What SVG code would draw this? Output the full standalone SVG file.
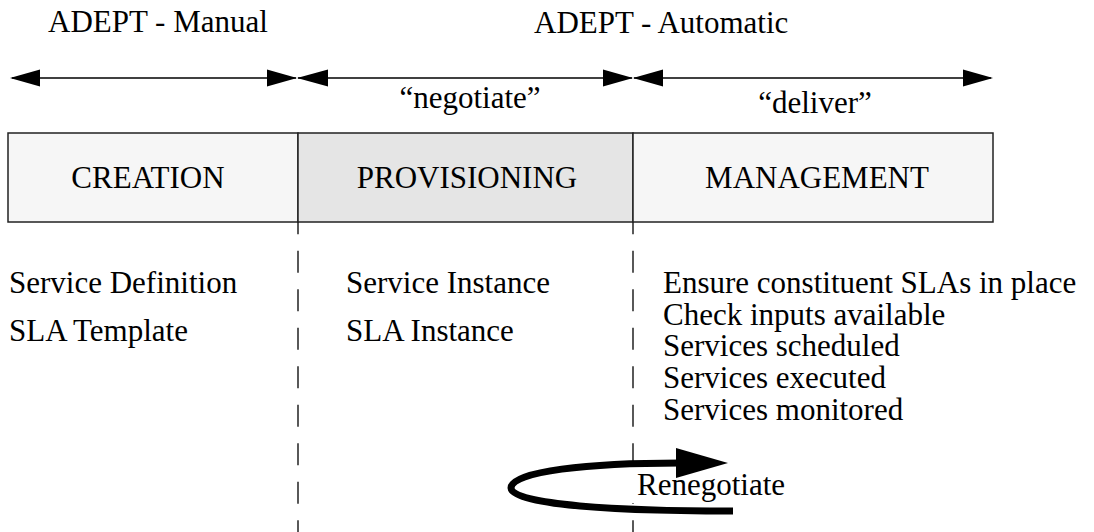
<svg xmlns="http://www.w3.org/2000/svg" width="1094" height="532" viewBox="0 0 1094 532" font-family="'Liberation Serif', 'DejaVu Serif', serif">
<style>
  text { font-family: 'Liberation Serif', 'DejaVu Serif', serif; font-size: 31px; fill: #000; }
  .mid { text-anchor: middle; }
  .ln { stroke: #000; stroke-width: 1.4; fill: none; }
  .head { fill: #000; stroke: none; }
  .dash { stroke: #000; stroke-width: 1.3; fill: none; stroke-dasharray: 22 16.5; stroke-dashoffset: 9.8; }
  .panel { stroke: #222; stroke-width: 1.5; }
</style>
<rect width="1094" height="532" fill="#fff"/>

<g id="headers">
  <text x="48" y="32">ADEPT - Manual</text>
  <text x="534" y="33">ADEPT - Automatic</text>
</g>

<g id="connectors">
  <line class="ln" x1="12" y1="78" x2="296" y2="78"/>
  <polygon class="head" points="10,78 40,69.5 40,86.5"/>
  <polygon class="head" points="297,78 267,69.5 267,86.5"/>
  <line class="ln" x1="298" y1="78" x2="632" y2="78"/>
  <polygon class="head" points="297,78 328,69.5 328,86.5"/>
  <polygon class="head" points="633,78 603,69.5 603,86.5"/>
  <line class="ln" x1="634" y1="78" x2="991" y2="78"/>
  <polygon class="head" points="633,78 663,69.5 663,86.5"/>
  <polygon class="head" points="993,78 963,69.5 963,86.5"/>
  <line class="dash" x1="298" y1="222" x2="298" y2="532"/>
  <line class="dash" x1="633" y1="222" x2="633" y2="532"/>
</g>

<g id="phase-labels">
  <text class="mid" x="470" y="108">“negotiate”</text>
  <text class="mid" x="815" y="113">“deliver”</text>
</g>

<g id="creation">
  <rect class="panel" x="8" y="133" width="290" height="89" fill="#f6f6f6"/>
  <text class="mid" x="148" y="188">CREATION</text>
</g>
<g id="provisioning">
  <rect class="panel" x="298" y="133" width="335" height="89" fill="#e5e5e5"/>
  <text class="mid" x="467" y="188">PROVISIONING</text>
</g>
<g id="management">
  <rect class="panel" x="633" y="133" width="360" height="89" fill="#f6f6f6"/>
  <text class="mid" x="817" y="188">MANAGEMENT</text>
</g>

<g id="creation-items">
  <text x="9" y="293">Service Definition</text>
  <text x="9" y="341">SLA Template</text>
</g>
<g id="provisioning-items">
  <text x="346" y="293">Service Instance</text>
  <text x="346" y="341">SLA Instance</text>
</g>
<g id="management-items">
  <text x="663" y="293">Ensure constituent SLAs in place</text>
  <text x="663" y="325">Check inputs available</text>
  <text x="663" y="356">Services scheduled</text>
  <text x="663" y="388">Services executed</text>
  <text x="663" y="420">Services monitored</text>
</g>

<g id="renegotiate">
  <rect x="631" y="470" width="158" height="33" fill="#fff"/>
  <path d="M 733 511 C 620 511, 511 505, 511 488 C 511 471, 590 463, 680 463" stroke="#000" stroke-width="7" fill="none"/>
  <polygon class="head" points="676,448 728,463 676,478"/>
  <text x="637" y="495">Renegotiate</text>
</g>
</svg>
